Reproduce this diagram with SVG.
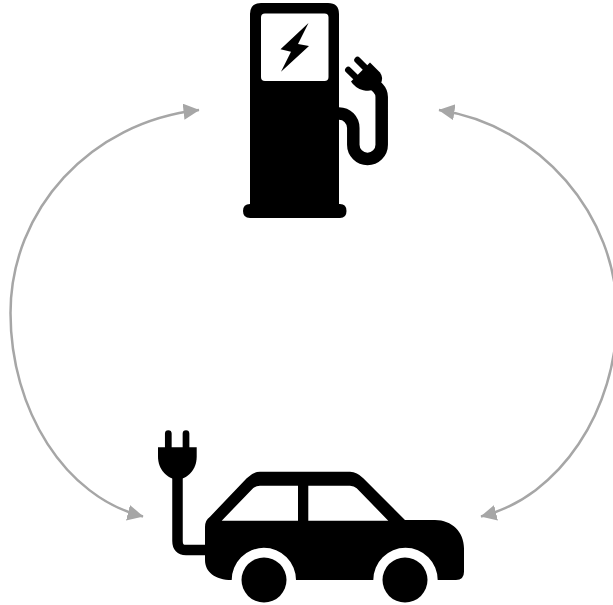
<svg xmlns="http://www.w3.org/2000/svg" width="613" height="605" viewBox="0 0 613 605">
<defs>
<marker id="ah" markerUnits="userSpaceOnUse" markerWidth="18" markerHeight="18" refX="15.5" refY="8" orient="auto-start-reverse"><path d="M0,0 L16,8 L0,16 Z" fill="#a6a6a6"/></marker>
</defs>
<style>.c{fill:none;stroke:#a6a6a6;stroke-width:2.5;marker-start:url(#ah);marker-end:url(#ah)}.k{fill:#000}.w{fill:#fff}.s{fill:none;stroke:#000;stroke-linecap:round}</style>
<rect width="613" height="605" fill="#fff"/>
<g id="connectors">
<path class="c" d="M199,110 C90,122 10.5,210 10.5,313 C10.5,410 65,497 143,516.5"/>
<path class="c" d="M439,110 C540,125 617,215 617,315 C617,410 560,497 481,516.5"/>
</g>
<g id="charging-station">
<path class="k" d="M250,204 V14 Q250,3 261,3 H328 Q339,3 339,14 V204 H340 Q346.500,204 346.500,211 Q346.500,218 340,218 H250 Q243,218 243,211 Q243,204 250,204 Z"/>
<rect class="w" x="261" y="13.500" width="67.500" height="67.500" rx="4"/>
<path class="k" d="M308.500,23 L280.500,49.300 L291,51.800 L281,71.800 L309,46 L298,44 Z"/>
<path class="s" stroke-width="12.500" d="M339,113.500 C347,113.500 353.300,120 353.300,128 V144.700 A14.200,14.200 0 0 0 381.700,144.700 V97 Q381.700,92 378,88 L368,78" style="stroke-linecap:butt"/>
<path class="k" d="M370,62.500 L351,81.500 Q355,88 363.300,90.300 Q372,92 377,88 L380.500,84 Q384,78 380,72.500 Z"/>
<path class="s" stroke-width="6.500" d="M357.500,60 L365,67.500 M348.300,70 L355.500,77"/>
</g>
<g id="electric-car">
<path class="k" d="M205,527 Q205,520 210,516.700 L246.700,478.300 Q253,471.700 260,471.700 H350 Q357,471.700 363.300,478.300 L405,520 H435 C452,520 464,532 464,548.300 V571.700 Q464,580 456,580 H437.700 A32,32 0 0 0 373.300,580 H296 A32,32 0 0 0 231.700,580 C215,580 205,572 205,560 Z"/>
<path class="w" d="M221.700,520.700 L253.300,488 Q256,485.700 260,485.700 H298 V520.700 Z M308.300,485.700 H350 Q354,485.700 356.700,488.300 L388.300,520.700 H308.300 Z"/>
<circle class="k" cx="264" cy="580" r="22.500"/>
<circle class="k" cx="405" cy="580" r="22.500"/>
<path class="s" stroke-width="10.500" style="stroke-linecap:butt" d="M177.500,475 V541 Q177.500,550 186,550 H206"/>
<path class="k" d="M158,447.300 H196.700 V456.700 C196.700,469 188,479 177.300,479.500 C167,479 158,469 158,456.700 Z"/>
<path class="s" stroke-width="6.700" d="M168.300,433.500 V448 M186,433.500 V448"/>
</g>
</svg>
